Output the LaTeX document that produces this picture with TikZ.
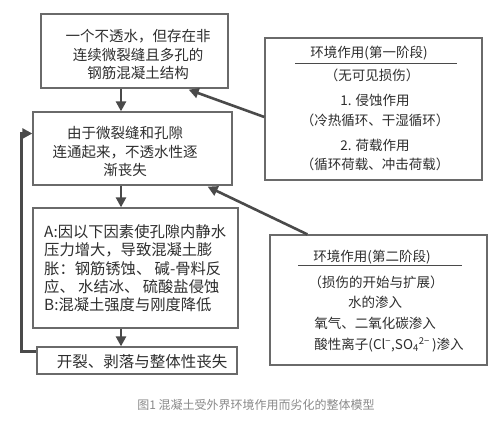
\documentclass[tikz,border=0pt]{standalone}
\usepackage{fontspec}
\setmainfont{Noto Sans CJK SC}
\usetikzlibrary{arrows.meta}
\definecolor{txt}{HTML}{2E2E2E}
\definecolor{boxc}{HTML}{6A6A6A}
\definecolor{arrc}{HTML}{4A4A4A}
\definecolor{capc}{HTML}{8A8A8A}
\tikzset{
  box/.style={draw=boxc, line width=1.3pt, rectangle, inner sep=0pt},
  lt/.style={text=txt, inner sep=0pt, font=\fontsize{14.5}{18.5}\selectfont, align=center},
  rt/.style={text=txt, inner sep=0pt, font=\fontsize{13.5}{16}\selectfont, align=center},
  arr/.style={draw=arrc, line width=2.6pt, -{Triangle[length=10pt,width=10pt]}},
}
\begin{document}
\begin{tikzpicture}[x=1pt,y=-1pt]
\useasboundingbox (0,0) rectangle (494,424);
\fill[white] (0,0) rectangle (494,424);
% left column boxes
\node[box, minimum width=187pt, minimum height=74pt] (b1) at (134.5,51) {};
\node[box, minimum width=199pt, minimum height=73pt] (b2) at (132.5,148.5) {};
\node[box, minimum width=205pt, minimum height=120pt] (b3) at (135.5,268) {};
\node[box, minimum width=200pt, minimum height=27pt] (b4) at (137,360.5) {};
% right boxes
\node[box, minimum width=217pt, minimum height=142pt] (bA) at (373.5,109) {};
\node[box, minimum width=217pt, minimum height=130pt] (bB) at (378.5,300) {};
% texts left
\node[lt] (t1) at (138,55) {一个不透水，但存在非\\连续微裂缝且多孔的\\钢筋混凝土结构};
\node[lt] (t2) at (125,151.5) {由于微裂缝和孔隙\\连通起来，不透水性逐\\渐丧失};
\node[lt, align=left, anchor=west, font=\fontsize{15.3}{18.3}\selectfont] (t3) at (44,268.5) {A:因以下因素使孔隙内静水\\压力增大，导致混凝土膨\\胀：钢筋锈蚀、 碱-骨料反\\应、 水结冰、 硫酸盐侵蚀\\B:混凝土强度与刚度降低};
\node[lt, font=\fontsize{15.5}{18}\selectfont] (t4) at (142,362) {开裂、剥落与整体性丧失};
% texts right A
\node[rt] (a1) at (369,53) {环境作用(第一阶段)};
\node[rt] (a2) at (372,75) {（无可见损伤）};
\node[rt] (a3) at (375,100) {1. 侵蚀作用};
\node[rt] (a4) at (375,120) {（冷热循环、干湿循环）};
\node[rt] (a5) at (375,145) {2. 荷载作用};
\node[rt] (a6) at (375,164) {（循环荷载、冲击荷载）};
\draw[arrc, line width=1pt] (295,63) -- (457,63);
% texts right B
\node[rt] (c1) at (372,257) {环境作用(第二阶段)};
\node[rt] (c2) at (376,282) {（损伤的开始与扩展）};
\node[rt] (c3) at (375,302) {水的渗入};
\node[rt] (c4) at (375,323) {氧气、二氧化碳渗入};
\node[rt] (c5) at (389,345) {酸性离子(Cl\textsuperscript{−},SO\textsubscript{4}\textsuperscript{2−}\,)渗入};
\draw[arrc, line width=1pt] (298,265) -- (462,265);
% arrows
\coordinate (ax) at (121,0);
\draw[arr] (b1.south -| ax) -- (b2.north -| ax);
\draw[arr] (b2.south -| ax) -- (b3.north -| ax);
\draw[arr] (b3.south -| ax) -- (b4.north -| ax);
\draw[arr] ([yshift=-8pt]bA.west) -- ([xshift=-40pt,yshift=-1pt]b1.south east);
\draw[arr] ([xshift=38pt]bB.north west) -- ([xshift=-25pt,yshift=-1pt]b2.south east);
\draw[arr] ([yshift=-5pt]b4.north west) -- ++(-15,0) |- ([yshift=15pt]b2.west);
% caption
\node[text=capc, inner sep=0pt, font=\fontsize{12}{14}\selectfont] (cap) at (256,405) {图1 混凝土受外界环境作用而劣化的整体模型};
\end{tikzpicture}
\end{document}
